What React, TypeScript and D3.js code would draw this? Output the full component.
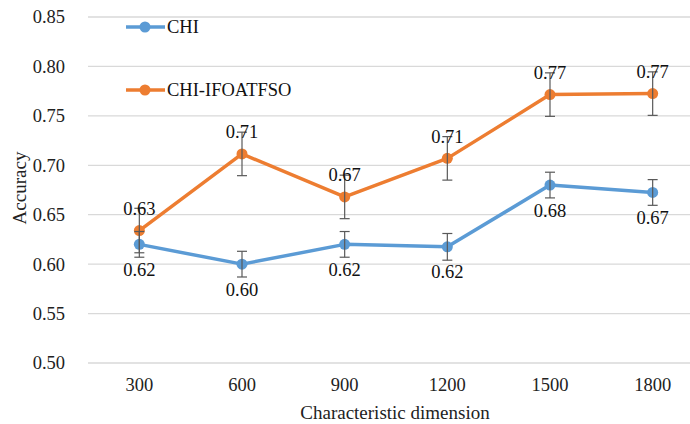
import { useRef, useEffect } from 'react'
import * as d3 from 'd3'

const dims = ['300', '600', '900', '1200', '1500', '1800']
const chi = [0.62, 0.6, 0.62, 0.6175, 0.68, 0.6725]
const chiErr = [0.013, 0.013, 0.013, 0.0135, 0.013, 0.013]
const ifo = [0.634, 0.7115, 0.668, 0.707, 0.7715, 0.7725]
const ifoErr = [0.0225, 0.022, 0.022, 0.022, 0.022, 0.022]
const yTicks = [0.5, 0.55, 0.6, 0.65, 0.7, 0.75, 0.8, 0.85]

const series = [
  { name: 'CHI', values: chi, err: chiErr, color: '#5B9BD5', labelDy: 25 },
  { name: 'CHI-IFOATFSO', values: ifo, err: ifoErr, color: '#ED7D31', labelDy: -22 },
]

const App = () => {
  const svgRef = useRef<SVGSVGElement>(null)

  useEffect(() => {
    if (!svgRef.current) return
    const svg = d3.select(svgRef.current)
    svg.selectAll('*').remove()

    const x = d3.scaleBand().domain(dims).range([88, 704])
    const y = d3.scaleLinear().domain([0.5, 0.85]).range([363, 17])
    const cx = (d: string) => (x(d) || 0) + x.bandwidth() / 2

    svg.selectAll('.grid')
      .data(yTicks)
      .join('line')
      .attr('x1', 88)
      .attr('x2', 704)
      .attr('y1', d => y(d))
      .attr('y2', d => y(d))
      .attr('stroke', '#d9d9d9')
      .attr('stroke-width', 1.3)

    svg.selectAll('.ytick')
      .data(yTicks)
      .join('text')
      .attr('x', 65)
      .attr('y', d => y(d))
      .attr('dy', '0.35em')
      .attr('text-anchor', 'end')
      .attr('fill', '#222')
      .text(d => d.toFixed(2))

    svg.selectAll('.xtick')
      .data(dims)
      .join('text')
      .attr('x', d => cx(d))
      .attr('y', 385)
      .attr('dy', '0.35em')
      .attr('text-anchor', 'middle')
      .attr('fill', '#222')
      .text(d => d)

    svg.append('text')
      .attr('x', 395)
      .attr('y', 412)
      .attr('dy', '0.35em')
      .attr('text-anchor', 'middle')
      .attr('font-size', 19)
      .attr('fill', '#222')
      .text('Characteristic dimension')

    svg.append('text')
      .attr('transform', 'translate(19,188) rotate(-90)')
      .attr('dy', '0.35em')
      .attr('text-anchor', 'middle')
      .attr('font-size', 19)
      .attr('fill', '#222')
      .text('Accuracy')

    const line = d3.line<number>()
      .x((_, i) => cx(dims[i]))
      .y(d => y(d))

    series.forEach(s => {
      const g = svg.append('g')
      g.append('path')
        .attr('d', line(s.values))
        .attr('fill', 'none')
        .attr('stroke', s.color)
        .attr('stroke-width', 3.5)
        .attr('stroke-linejoin', 'round')

      g.selectAll('circle')
        .data(s.values)
        .join('circle')
        .attr('cx', (_, i) => cx(dims[i]))
        .attr('cy', d => y(d))
        .attr('r', 5.5)
        .attr('fill', s.color)
    })

    series.forEach(s => {
      const g = svg.append('g')
      s.values.forEach((v, i) => {
        const px = cx(dims[i])
        const top = y(v + s.err[i])
        const bot = y(v - s.err[i])
        g.append('line').attr('x1', px).attr('x2', px).attr('y1', top).attr('y2', bot)
          .attr('stroke', '#595959').attr('stroke-width', 1.2)
        g.append('line').attr('x1', px - 5).attr('x2', px + 5).attr('y1', top).attr('y2', top)
          .attr('stroke', '#595959').attr('stroke-width', 1.2)
        g.append('line').attr('x1', px - 5).attr('x2', px + 5).attr('y1', bot).attr('y2', bot)
          .attr('stroke', '#595959').attr('stroke-width', 1.2)
      })
      g.selectAll('text')
        .data(s.values)
        .join('text')
        .attr('x', (_, i) => cx(dims[i]))
        .attr('y', d => y(d) + s.labelDy)
        .attr('dy', '0.35em')
        .attr('text-anchor', 'middle')
        .attr('fill', '#111')
        .text(d => d.toFixed(2))
    })

    // legend
    series.forEach((s, i) => {
      const ly = 27 + i * 63
      svg.append('line')
        .attr('x1', 126).attr('x2', 165).attr('y1', ly).attr('y2', ly)
        .attr('stroke', s.color).attr('stroke-width', 3.5)
      svg.append('circle')
        .attr('cx', 145).attr('cy', ly).attr('r', 5.5).attr('fill', s.color)
      svg.append('text')
        .attr('x', 167)
        .attr('y', ly)
        .attr('dy', '0.35em')
        .attr('fill', '#111')
        .text(s.name)
    })
  }, [])

  return (
    <svg ref={svgRef} width={690} height={424}
      style={{
        position: 'absolute', left: 0, top: 0, background: '#fff',
        fontFamily: "'Liberation Serif', 'DejaVu Serif', serif", fontSize: 18.5,
      }} />
  )
}

export default App
